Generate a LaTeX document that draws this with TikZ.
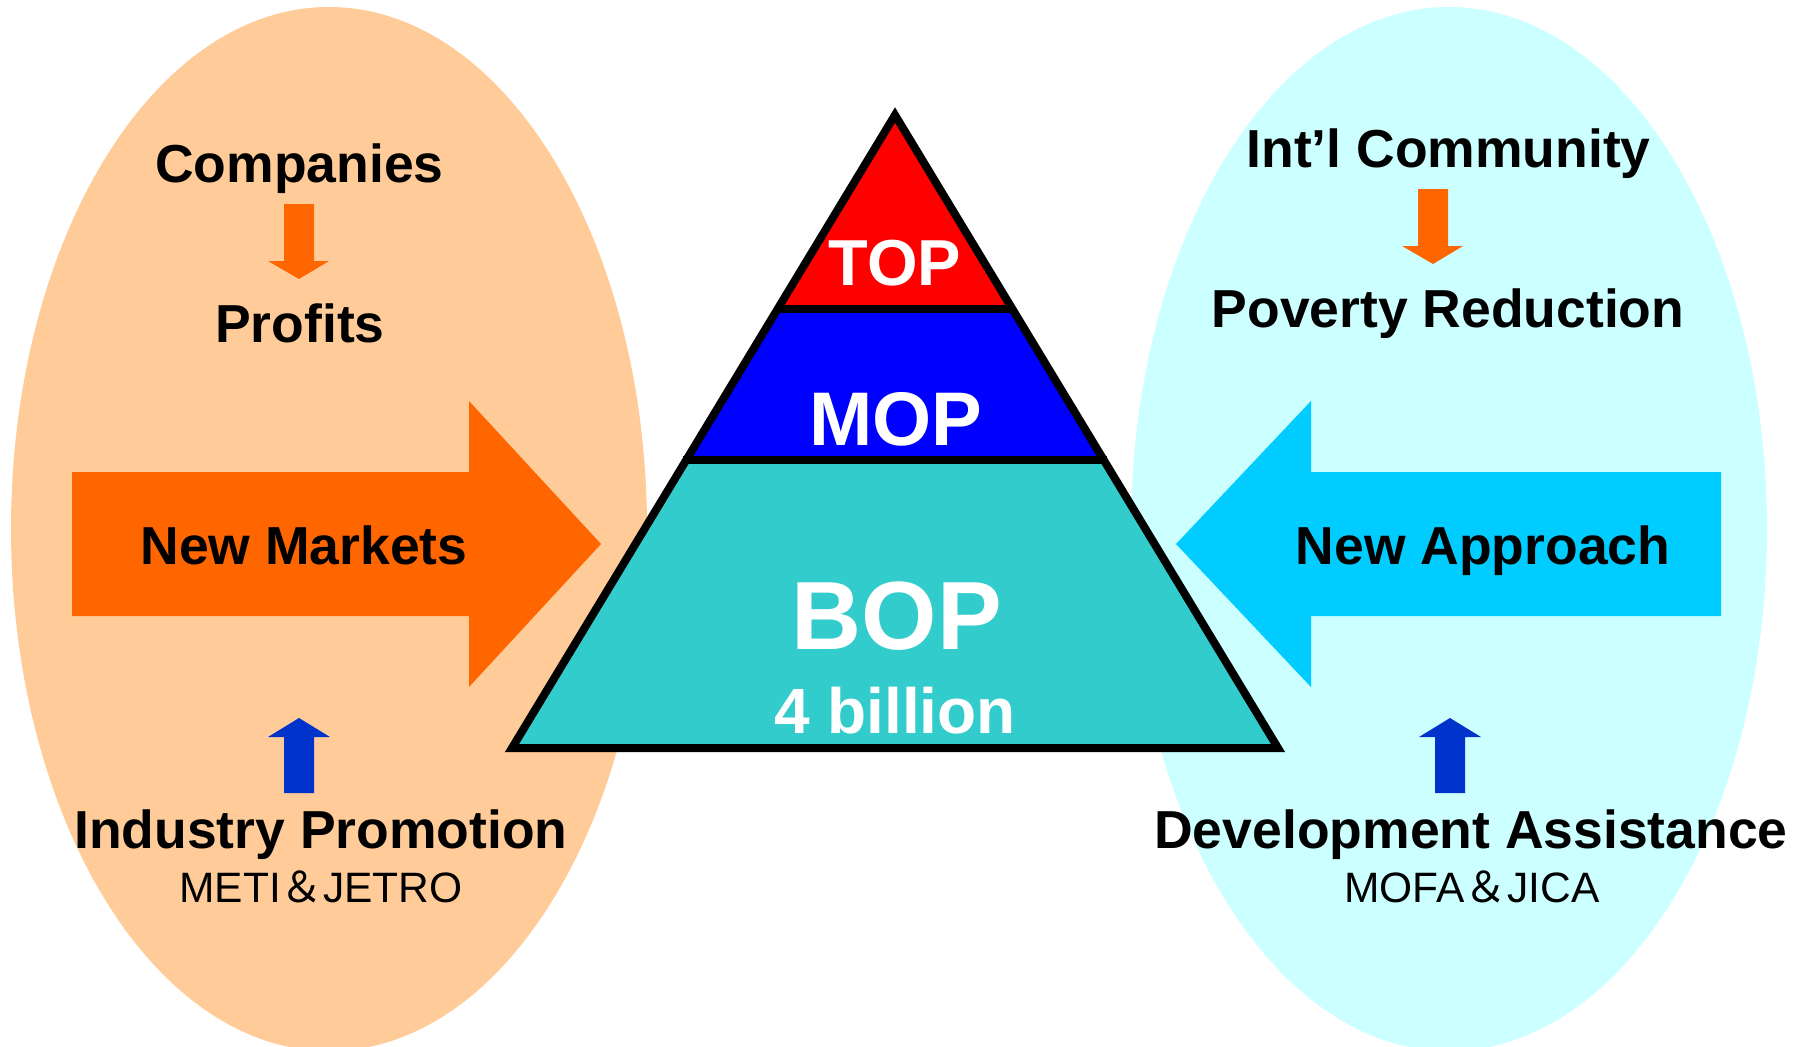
\documentclass[tikz,border=0pt]{standalone}
\usepackage{fontspec}
\setmainfont{Liberation Sans}
\newfontfamily\cjkfont{Noto Sans CJK JP}
\usetikzlibrary{calc}
\definecolor{peach}{HTML}{FFCC99}
\definecolor{paleCyan}{HTML}{CCFFFF}
\definecolor{orangeArrow}{HTML}{FF6600}
\definecolor{cyanArrow}{HTML}{00CCFF}
\definecolor{blueArrow}{HTML}{0033CC}
\definecolor{topRed}{HTML}{FF0000}
\definecolor{mopBlue}{HTML}{0000FF}
\definecolor{bopTeal}{HTML}{33CCCC}
\tikzset{
  lbl/.style={anchor=base, inner sep=0pt, font=\fontsize{53.5}{60}\selectfont\bfseries},
  sublbl/.style={anchor=base, inner sep=0pt, font=\fontsize{42.5}{48}\selectfont},
  tierlbl/.style={anchor=base, inner sep=0pt, text=white},
  pyrline/.style={line width=8pt, draw=black, line join=miter},
}
\begin{document}
\begin{tikzpicture}[x=1pt,y=-1pt]
\useasboundingbox (0,0) rectangle (1800,1047);
\clip (0,0) rectangle (1800,1047);
% ellipses
\fill[peach] (329,529) ellipse [x radius=318, y radius=522];
\fill[paleCyan] (1449,529) ellipse [x radius=318, y radius=522];

% big arrows
\fill[orangeArrow] (72,472) -- (469,472) -- (469,401) -- (601,544) -- (469,687) -- (469,616) -- (72,616) -- cycle;
\fill[cyanArrow] (1721,472) -- (1311,472) -- (1311,401) -- (1176,544) -- (1311,687) -- (1311,616) -- (1721,616) -- cycle;

% small arrows
\fill[orangeArrow] (284,204) -- (314,204) -- (314,261) -- (329,261) -- (299,279) -- (268,261) -- (284,261) -- cycle;
\fill[orangeArrow] (1418,189) -- (1448,189) -- (1448,246) -- (1463,246) -- (1433,264) -- (1402,246) -- (1418,246) -- cycle;
\fill[blueArrow] (284,793) -- (314,793) -- (314,737) -- (330,737) -- (299,718) -- (268,737) -- (284,737) -- cycle;
\fill[blueArrow] (1435,793) -- (1465,793) -- (1465,737) -- (1481,737) -- (1450,718) -- (1419,737) -- (1435,737) -- cycle;

% pyramid
\coordinate (apex) at (895,115);
\coordinate (bl) at (512,748);
\coordinate (br) at (1278,748);
\coordinate (l1) at ($(apex)!0.3065!(bl)$);
\coordinate (r1) at ($(apex)!0.3065!(br)$);
\coordinate (l2) at ($(apex)!0.545!(bl)$);
\coordinate (r2) at ($(apex)!0.545!(br)$);
\fill[topRed] (apex) -- (r1) -- (l1) -- cycle;
\fill[mopBlue] (l1) -- (r1) -- (r2) -- (l2) -- cycle;
\fill[bopTeal] (l2) -- (r2) -- (br) -- (bl) -- cycle;
\draw[pyrline] ($(l1)+(-3,0)$) -- ($(r1)+(3,0)$);
\draw[pyrline] ($(l2)+(-3,0)$) -- ($(r2)+(3,0)$);
\draw[pyrline] (apex) -- (br) -- (bl) -- cycle;

% tier labels
\node[tierlbl, font=\fontsize{65}{70}\selectfont\bfseries] (top) at (895,285) {TOP};
\node[tierlbl, font=\fontsize{76}{80}\selectfont\bfseries] (mop) at (896,445) {MOP};
\node[tierlbl, font=\fontsize{97}{100}\selectfont\bfseries] (bop) at (897,649) {BOP};
\node[tierlbl, font=\fontsize{64}{70}\selectfont\bfseries] (bopn) at (895,733) {4 billion};

% left texts
\node[lbl] (comp) at (299.5,182) {Companies};
\node[lbl] (prof) at (300,342) {Profits};
\node[lbl] (newm) at (304,564) {New Markets};
\node[lbl] (indp) at (321,848) {Industry Promotion};
\node[sublbl] (meti) at (321,902) {METI{\cjkfont ＆}JETRO};

% right texts
\node[lbl] (intl) at (1448.6,167) {Int’l Community};
\node[lbl] (pov) at (1448,327) {Poverty Reduction};
\node[lbl] (newa) at (1483,564) {New Approach};
\node[lbl] (deva) at (1471,848) {Development Assistance};
\node[sublbl] (mofa) at (1472,902) {MOFA{\cjkfont ＆}JICA};
\end{tikzpicture}
\end{document}
